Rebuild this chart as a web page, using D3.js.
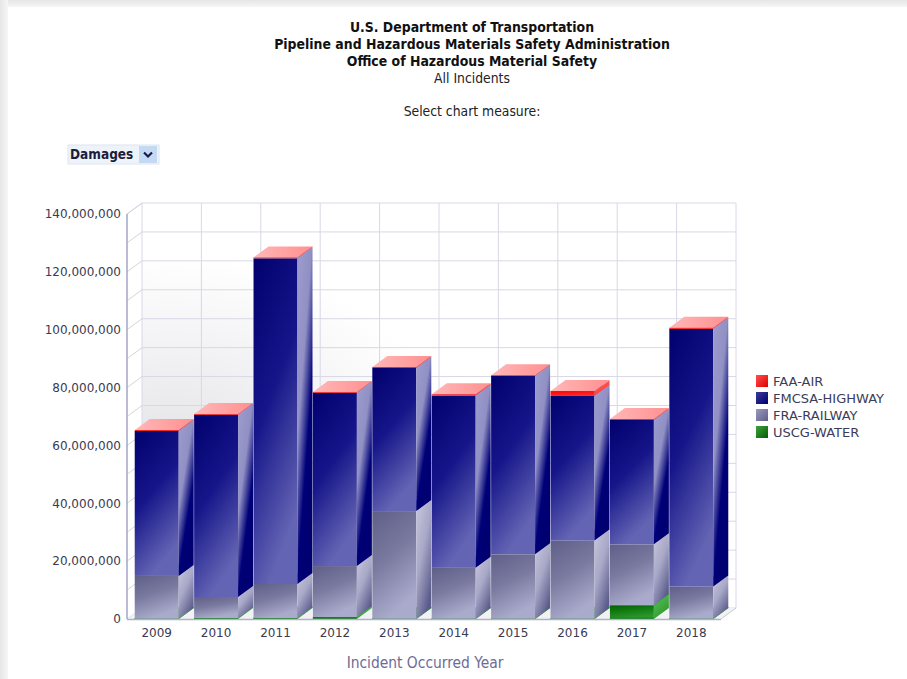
<!DOCTYPE html>
<html>
<head>
<meta charset="utf-8">
<script src="https://cdn.jsdelivr.net/npm/d3@7"></script>
<style>
  body { margin: 0; background: #fff; }
  svg text { font-family: "DejaVu Sans", Verdana, sans-serif; }
  .cond { font-family: "DejaVu Sans Condensed", "DejaVu Sans", sans-serif; }
</style>
</head>
<body>
<div id="canvas-wrapper"></div>
<script>
// data (damages in US$)
var years = ["2009", "2010", "2011", "2012", "2013", "2014", "2015", "2016", "2017", "2018"];
var water   = [100000, 300000, 300000, 700000, 100000, 100000, 100000, 100000, 4800000, 100000];
var railway = [14800000, 7300000, 11800000, 17600000, 37200000, 17600000, 22300000, 27000000, 21000000, 11100000];
var highway = [50100000, 63000000, 112600000, 59900000, 49500000, 59500000, 61600000, 50000000, 43000000, 89100000];
var air     = [300000, 300000, 300000, 300000, 300000, 500000, 300000, 1700000, 300000, 400000];
var seriesKeys = ["USCG-WATER", "FRA-RAILWAY", "FMCSA-HIGHWAY", "FAA-AIR"];
var legendKeys = ["FAA-AIR", "FMCSA-HIGHWAY", "FRA-RAILWAY", "USCG-WATER"];
var yTicks = [0, 20000000, 40000000, 60000000, 80000000, 100000000, 120000000, 140000000];
var gridValues = d3.range(0, 140000001, 10000000);
var titleLines = ["U.S. Department of Transportation",
                  "Pipeline and Hazardous Materials Safety Administration",
                  "Office of Hazardous Material Safety"];

var rows = years.map(function(y, i) {
  return {year: y, "USCG-WATER": water[i], "FRA-RAILWAY": railway[i],
          "FMCSA-HIGHWAY": highway[i], "FAA-AIR": air[i]};
});

// face colours per series: front, side, top
var palette = {
  "FAA-AIR":       {front: ["#ff0000", "#ff2a2a"], side: ["#ff7070", "#ff3030"], top: ["#ffb8b8", "#ff9090"], swatch: ["#ff5050", "#e00000"]},
  "FMCSA-HIGHWAY": {front: ["#00006e", "#16168a", "#6464b4"], side: ["#9c9cce", "#9090c4", "#000078", "#000070"], top: ["#9a9acc", "#7878bc"], swatch: ["#3a3a9a", "#000070"]},
  "FRA-RAILWAY":   {front: ["#5e5e88", "#7a7aa0", "#aaaacc"], side: ["#c8c8dc", "#a8a8c8", "#5c5c8c"], top: ["#c4c4d8", "#aaaac8"], swatch: ["#9a9ac0", "#5e5e88"]},
  "USCG-WATER":    {front: ["#006000", "#2a9a2a"], side: ["#60c060", "#2a9a2a"], top: ["#6fd06f", "#40b040"], swatch: ["#40a040", "#006000"]}
};

var W = 907, H = 679;
var dx = 15, dy = -11;

var svg = d3.select("#canvas-wrapper").append("svg")
    .attr("width", W)
    .attr("height", H);

var defs = svg.append("defs");

function addGradient(id, colors, x2, y2) {
  var g = defs.append("linearGradient")
    .attr("id", id)
    .attr("x1", 0).attr("y1", 0)
    .attr("x2", x2).attr("y2", y2);
  g.selectAll("stop")
    .data(colors)
  .enter().append("stop")
    .attr("offset", function(d, i) {
      if (colors.length == 4) return [0, 0.42, 0.72, 1][i];
      return i / (colors.length - 1);
    })
    .attr("stop-color", function(d) { return d; });
}

seriesKeys.forEach(function(k, i) {
  var p = palette[k];
  addGradient("front" + i, p.front, 0.35, 1);
  addGradient("side" + i, p.side, 0.6, 1);
  addGradient("top" + i, p.top, 1, 0);
  addGradient("sw" + i, p.swatch, 1, 1);
});

// page frame shadow
addGradient("bandTop", ["#e6e6e6", "#f6f6f6"], 0, 1);
addGradient("bandLeft", ["#e6e6e6", "#f6f6f6"], 1, 0);
var wallGrad = defs.append("radialGradient")
  .attr("id", "wallGrad")
  .attr("cx", 0.05).attr("cy", 0.58).attr("r", 0.45);
wallGrad.append("stop").attr("offset", 0).attr("stop-color", "#e6e6ea");
wallGrad.append("stop").attr("offset", 1).attr("stop-color", "#ffffff");

svg.append("rect").attr("x", 0).attr("y", 0).attr("width", W).attr("height", 7).attr("fill", "url(#bandTop)");
svg.append("rect").attr("x", 0).attr("y", 0).attr("width", 8).attr("height", H).attr("fill", "url(#bandLeft)");

// titles
var cx = 472;
svg.selectAll(".title")
  .data(titleLines)
.enter().append("text")
  .attr("class", "title cond")
  .attr("x", cx)
  .attr("y", function(d, i) { return 32 + i * 17; })
  .attr("text-anchor", "middle")
  .attr("font-size", 13.9)
  .attr("font-weight", "bold")
  .attr("fill", "#111")
  .text(function(d) { return d; });

svg.append("text").attr("class", "cond")
  .attr("x", cx).attr("y", 83)
  .attr("text-anchor", "middle")
  .attr("font-size", 13.8)
  .attr("fill", "#222")
  .text("All Incidents");

svg.append("text").attr("class", "cond")
  .attr("x", cx).attr("y", 116)
  .attr("text-anchor", "middle")
  .attr("font-size", 13.8)
  .attr("fill", "#222")
  .text("Select chart measure:");

// dropdown
var dd = svg.append("g").attr("transform", "translate(68,145)");
dd.append("rect").attr("width", 91).attr("height", 19).attr("fill", "#eef3fa").attr("stroke", "#dde6f2");
dd.append("text").attr("class", "cond")
  .attr("x", 2).attr("y", 14)
  .attr("font-size", 13.5).attr("font-weight", "bold")
  .attr("fill", "#1c1c3c")
  .text("Damages");
dd.append("rect").attr("x", 71).attr("y", 1).attr("width", 18).attr("height", 17).attr("fill", "#c4daf2");
dd.append("path").attr("d", "M76,7.5 L80,11.5 L84,7.5")
  .attr("fill", "none").attr("stroke", "#1a1a50").attr("stroke-width", 2.2);

// scales
var x = d3.scaleBand()
  .domain(years)
  .range([127, 721])
  .paddingInner(0.26)
  .paddingOuter(0.13);

var y = d3.scaleLinear()
  .domain([0, 140000000])
  .range([619, 214]);

var x0 = x.range()[0], x1 = x.range()[1];
var step = x.step();

// back wall
svg.append("rect")
  .attr("x", x0 + dx).attr("y", y(140000000) + dy)
  .attr("width", x1 - x0).attr("height", y(0) - y(140000000))
  .attr("fill", "url(#wallGrad)");

// horizontal gridlines on back wall
svg.selectAll(".hgrid")
  .data(gridValues)
.enter().append("line")
  .attr("x1", x0 + dx).attr("x2", x1 + dx)
  .attr("y1", function(d) { return y(d) + dy; })
  .attr("y2", function(d) { return y(d) + dy; })
  .attr("stroke", "#d8d8e6");

// vertical gridlines at band edges
var edges = years.map(function(d) { return x(d) - step * x.paddingInner() / 2; });
edges.push(x1);
edges[0] = x0;
svg.selectAll(".vgrid")
  .data(edges)
.enter().append("line")
  .attr("x1", function(d) { return d + dx; })
  .attr("x2", function(d) { return d + dx; })
  .attr("y1", y(140000000) + dy)
  .attr("y2", y(0) + dy)
  .attr("stroke", "#d8d8e6");

// left wall diagonals
svg.selectAll(".lwall")
  .data(gridValues)
.enter().append("line")
  .attr("x1", x0).attr("y1", function(d) { return y(d); })
  .attr("x2", x0 + dx).attr("y2", function(d) { return y(d) + dy; })
  .attr("stroke", "#d4d4e2");

// floor
svg.append("polygon")
  .attr("points", [[x0, y(0)], [x1, y(0)], [x1 + dx, y(0) + dy], [x0 + dx, y(0) + dy]].join(" "))
  .attr("fill", "#f2f2f5");

// bars
var stacked = d3.stack().keys(seriesKeys)(rows);
var bw = x.bandwidth();

stacked.forEach(function(layer, si) {
  var g = svg.append("g").attr("class", "layer");
  layer.forEach(function(d) {
    var xl = x(d.data.year), xr = xl + bw;
    var yt = y(d[1]), yb = y(d[0]);
    g.append("rect")
      .attr("x", xl).attr("y", yt)
      .attr("width", bw).attr("height", Math.max(0, yb - yt))
      .attr("fill", "url(#front" + si + ")");
    g.append("polygon")
      .attr("points", [[xr, yt], [xr + dx, yt + dy], [xr + dx, yb + dy], [xr, yb]].join(" "))
      .attr("fill", "url(#side" + si + ")");
    g.append("polygon")
      .attr("points", [[xl, yt], [xr, yt], [xr + dx, yt + dy], [xl + dx, yt + dy]].join(" "))
      .attr("fill", "url(#top" + si + ")")
      .attr("stroke", si == 0 ? "#2aa02a" : "none")
      .attr("stroke-width", si == 0 ? 0.8 : 0);
    if (si == 0) {
      g.append("line")
        .attr("x1", xl).attr("x2", xr)
        .attr("y1", yb - 0.5).attr("y2", yb - 0.5)
        .attr("stroke", "#0a7a0a")
        .attr("stroke-width", Math.min(1.5, yb - yt + 0.6));
    }
  });
});

// front axis line and baseline
svg.append("line")
  .attr("x1", x0).attr("x2", x0 + dx)
  .attr("y1", y(140000000)).attr("y2", y(140000000) + dy)
  .attr("stroke", "#d4d4e2");
svg.append("line")
  .attr("x1", x0).attr("x2", x0)
  .attr("y1", y(140000000)).attr("y2", y(0))
  .attr("stroke", "#a4a4c8").attr("stroke-width", 1.5);
svg.append("line")
  .attr("x1", x0).attr("x2", x1)
  .attr("y1", y(0) + 0.5).attr("y2", y(0) + 0.5)
  .attr("stroke", "#b0b0cc").attr("stroke-width", 1.5);
svg.append("line")
  .attr("x1", x1).attr("x2", x1 + dx)
  .attr("y1", y(0)).attr("y2", y(0) + dy)
  .attr("stroke", "#c8c8d8");

// y axis labels
var yAxis = svg.append("g")
  .attr("transform", "translate(" + x0 + ",0)")
  .call(d3.axisLeft(y).tickValues(yTicks).tickFormat(d3.format(",")).tickSize(0).tickPadding(6));
yAxis.select(".domain").remove();
yAxis.selectAll("text")
  .attr("font-size", 12)
  .attr("font-family", "DejaVu Sans, sans-serif")
  .attr("fill", "#3a3a52");

// x axis labels
var xAxis = svg.append("g")
  .attr("transform", "translate(0," + y(0) + ")")
  .call(d3.axisBottom(x).tickSize(0).tickPadding(9));
xAxis.select(".domain").remove();
xAxis.selectAll("text")
  .attr("font-size", 12)
  .attr("font-family", "DejaVu Sans, sans-serif")
  .attr("fill", "#3a3a52");

svg.append("text").attr("class", "cond")
  .attr("x", 425).attr("y", 668)
  .attr("text-anchor", "middle")
  .attr("font-size", 15.4)
  .attr("fill", "#6c6c96")
  .text("Incident Occurred Year");

// legend
var legend = svg.append("g").attr("transform", "translate(756,375)");
var item = legend.selectAll(".item")
  .data(legendKeys)
.enter().append("g")
  .attr("transform", function(d, i) { return "translate(0," + (i * 17) + ")"; });
item.append("rect")
  .attr("width", 12).attr("height", 12)
  .attr("fill", function(d) { return "url(#sw" + seriesKeys.indexOf(d) + ")"; });
item.append("text")
  .attr("x", 17).attr("y", 10.5)
  .attr("font-size", 13)
  .attr("fill", "#3c3c58")
  .text(function(d) { return d; });
</script>
</body>
</html>
